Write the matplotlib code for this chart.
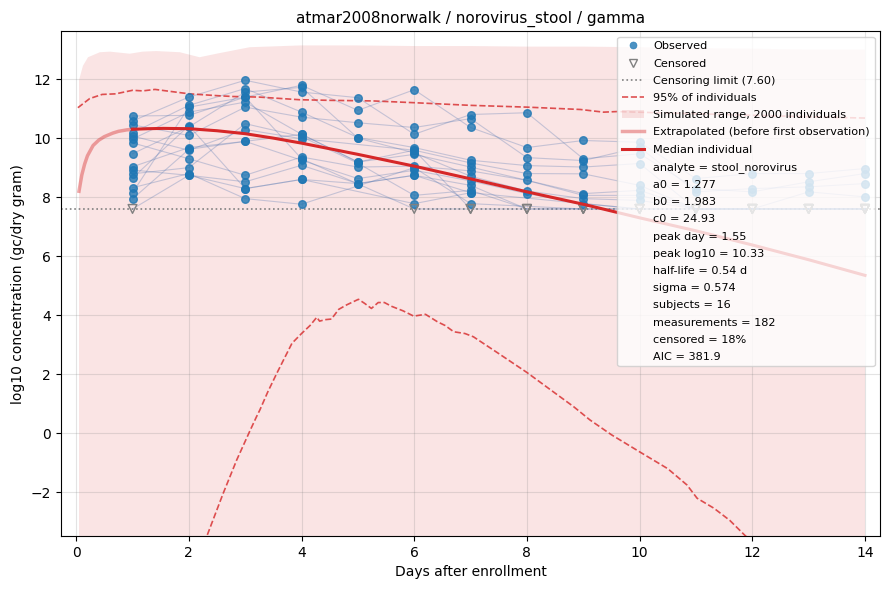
import numpy as np
import matplotlib.pyplot as plt
from matplotlib.lines import Line2D
from matplotlib.patches import Patch

# censoring limit and markers used in the subject table
LOD = 7.60
C = -1.0     # censored (below limit)
N = np.nan   # not sampled

days = np.arange(1, 15)

# log10 gc/dry gram per subject, day 1..14
subjects = [
    [10.75, 10.77, 11.39, 11.79, 10.94, 11.64, 10.36, 9.68, 9.92, 9.86, 8.63, 8.80, 8.80, 8.97],
    [10.58, 11.39, 11.96, 11.56, 11.37, 10.13, 10.80, 10.86, 9.30, 9.47, 8.29, 8.18, 8.52, 8.80],
    [10.45, 10.09, 11.05, 10.71, 10.52, 10.36, 10.66, 9.34, 9.24, 9.69, 8.18, 8.29, 8.35, 8.46],
    [10.18, 11.11, 11.68, 10.88, 10.02, 9.68, 9.25, 9.07, 9.02, 9.14, C, C, 8.18, 8.01],
    [10.07, 9.59, 10.29, 9.98, N, 9.59, 9.16, 8.80, 8.79, 8.40, C, C, C, C],
    [9.97, 10.88, 11.22, 10.13, 9.19, 9.45, 9.02, N, 8.12, 8.23, C, C, C, C],
    [9.84, 9.30, 8.74, 9.36, 9.02, 9.05, 8.89, 8.57, 8.06, 8.06, C, C, C, C],
    [9.47, 10.38, 11.56, 11.72, 10.00, 9.50, 8.71, 8.21, 7.95, 7.89, C, N, C, C],
    [9.03, 9.68, 9.89, 9.25, 8.63, 8.91, 8.55, 8.12, 7.78, C, N, N, N, N],
    [8.92, 8.74, 8.52, 9.08, 8.46, 8.74, 8.40, C, C, C, N, N, N, N],
    [8.79, 9.00, 10.49, 10.05, 9.15, 8.06, 8.23, C, C, C, C, C, C, C],
    [8.65, 10.42, 8.29, 8.60, N, 7.78, 8.15, N, N, C, N, C, C, C],
    [8.32, 8.80, 7.95, 7.76, N, 9.00, 7.78, N, C, N, N, N, N, N],
    [8.15, 11.05, 11.39, 9.30, N, C, C, N, N, N, N, N, N, N],
    [7.94, 9.62, 9.89, 10.13, 9.19, 9.59, C, C, N, N, N, N, N, N],
    [C, 8.74, 8.29, 8.60, 8.46, 8.74, 8.15, N, N, N, N, N, N, N],
]

# simulated range upper edge (lower edge is far below the axis)
sim_t = [0.05, 0.05, 0.12, 0.21, 0.42, 0.6, 0.95, 1.18, 1.42, 1.84, 2.19, 2.49, 3.08,
         3.97, 5.0, 6.0, 7.0, 8.0, 9.0, 10.0, 11.0, 12.0, 13.0, 14.0]
sim_hi = [-20, 11.96, 12.45, 12.74, 12.91, 12.93, 12.86, 12.93, 12.95, 12.91, 12.74, 12.86,
          13.08, 13.14, 13.14, 13.12, 13.12, 13.1, 13.1, 13.08, 13.05, 13.03, 13.0, 13.0]
sim_floor = -20

# 95% of individuals, upper and lower bounds
p95_hi_t = [0.03, 0.24, 0.46, 0.7, 1.0, 1.18, 1.4, 1.6, 2.01, 2.49, 2.78, 3.25, 3.97,
            4.5, 5.27, 6.0, 7.0, 8.0, 8.95, 9.36, 9.6, 10.5, 11.5, 12.5, 13.5, 14.0]
p95_hi = [11.03, 11.34, 11.48, 11.5, 11.62, 11.6, 11.65, 11.6, 11.5, 11.44, 11.41, 11.39, 11.3,
          11.28, 11.26, 11.2, 11.11, 11.05, 10.97, 10.88, 10.9, 10.85, 10.8, 10.75, 10.7, 10.68]
p95_lo_t = [2.0, 2.32, 2.61, 2.85, 3.09, 3.2, 3.26, 3.4, 3.56, 3.83, 4.0, 4.15, 4.27, 4.32,
            4.42, 4.53, 4.66, 4.8, 5.01, 5.12, 5.24, 5.36, 5.47, 5.6, 5.8, 5.99, 6.2, 6.41,
            6.55, 6.70, 6.9, 7.05, 7.5, 8.0, 8.4, 8.83, 9.12, 9.5, 10.01, 10.5, 10.84, 11.02,
            11.32, 11.6, 11.88, 12.5, 13.2, 14.0]
p95_lo = [-4.8, -3.48, -2.03, -0.9, 0.11, 0.56, 0.79, 1.4, 2.03, 3.05, 3.38, 3.65, 3.93, 3.8,
          3.85, 3.87, 4.2, 4.35, 4.54, 4.4, 4.23, 4.43, 4.43, 4.3, 4.15, 3.97, 4.03, 3.78,
          3.65, 3.44, 3.38, 3.27, 2.7, 2.06, 1.5, 0.90, 0.45, -0.05, -0.64, -1.2, -1.75, -2.2,
          -2.54, -2.95, -3.48, -4.3, -5.3, -6.4]

# median individual: extrapolated part before first observation, then fitted part
extrap_t = [0.05, 0.1, 0.15, 0.2, 0.3, 0.4, 0.5, 0.65, 0.75, 0.9, 1.0]
extrap_y = [8.2, 8.75, 9.12, 9.4, 9.75, 9.93, 10.05, 10.17, 10.23, 10.28, 10.30]
median_t = [1.0, 1.3, 1.55, 2.0, 2.5, 3.0, 3.5, 4.0, 5.0, 6.0, 7.0, 8.0, 9.0, 10.0, 11.0, 12.0, 13.0, 14.0]
median_y = [10.30, 10.32, 10.33, 10.32, 10.25, 10.15, 10.0, 9.83, 9.45, 9.05, 8.62, 8.18, 7.76,
            7.30, 6.86, 6.38, 5.88, 5.35]

params = ["analyte = stool_norovirus", "a0 = 1.277", "b0 = 1.983", "c0 = 24.93",
          "peak day = 1.55", "peak log10 = 10.33", "half-life = 0.54 d", "sigma = 0.574",
          "subjects = 16", "measurements = 182", "censored = 18%", "AIC = 381.9"]

fig, ax = plt.subplots(figsize=(8.9, 5.9), dpi=100)
fig.subplots_adjust(left=0.0685, right=0.989, top=0.947, bottom=0.0915)

ax.fill_between(sim_t, sim_floor, sim_hi, color='tab:red', alpha=0.12, linewidth=0, zorder=1)
ax.plot(p95_hi_t, p95_hi, '--', color='tab:red', alpha=0.8, lw=1.2, zorder=3)
ax.plot(p95_lo_t, p95_lo, '--', color='tab:red', alpha=0.8, lw=1.2, zorder=3)
ax.axhline(LOD, color='gray', ls=':', lw=1.2, zorder=2)

obs_x, obs_y, cen_x = [], [], []
for row in subjects:
    row = np.array(row, dtype=float)
    ok = ~np.isnan(row)
    yy = np.where(row == C, LOD, row)
    ax.plot(days[ok], yy[ok], color='#4c72b0', alpha=0.3, lw=0.8, zorder=2)
    for d, v in zip(days, row):
        if np.isnan(v):
            continue
        if v == C:
            cen_x.append(d)
        else:
            obs_x.append(d)
            obs_y.append(v)

ax.scatter(obs_x, obs_y, s=30, color='#1f77b4', alpha=0.8, zorder=4)
ax.scatter(cen_x, [LOD] * len(cen_x), s=40, marker='v', facecolors='none',
           edgecolors='gray', linewidths=1.0, zorder=4)

ax.plot(extrap_t, extrap_y, color='tab:red', alpha=0.4, lw=2.5, zorder=5)
ax.plot(median_t, median_y, color='#d62728', lw=2.2, zorder=6)

ax.set_xlim(-0.27, 14.27)
ax.set_ylim(-3.48, 13.62)
ax.grid(True, color='gray', alpha=0.22, lw=0.8)
ax.set_xlabel('Days after enrollment')
ax.set_ylabel('log10 concentration (gc/dry gram)')
ax.set_title('atmar2008norwalk / norovirus_stool / gamma', fontsize=11)

handles = [
    Line2D([], [], marker='o', ls='none', color='#1f77b4', alpha=0.8, markersize=5,
           markeredgewidth=0.5, label='Observed'),
    Line2D([], [], marker='v', ls='none', markerfacecolor='none', markeredgecolor='gray',
           markersize=6, label='Censored'),
    Line2D([], [], color='gray', ls=':', lw=1.2, label='Censoring limit (7.60)'),
    Line2D([], [], color='tab:red', ls='--', alpha=0.8, lw=1.2, label='95% of individuals'),
    Patch(facecolor='tab:red', alpha=0.12, label='Simulated range, 2000 individuals'),
    Line2D([], [], color='tab:red', alpha=0.4, lw=2.5, label='Extrapolated (before first observation)'),
    Line2D([], [], color='#d62728', lw=2.2, label='Median individual'),
]
handles += [Line2D([], [], ls='none', label=p) for p in params]
leg = ax.legend(handles=handles, loc='upper right', fontsize=8.1, labelspacing=0.64)
leg.set_zorder(10)

plt.savefig('out.png')
